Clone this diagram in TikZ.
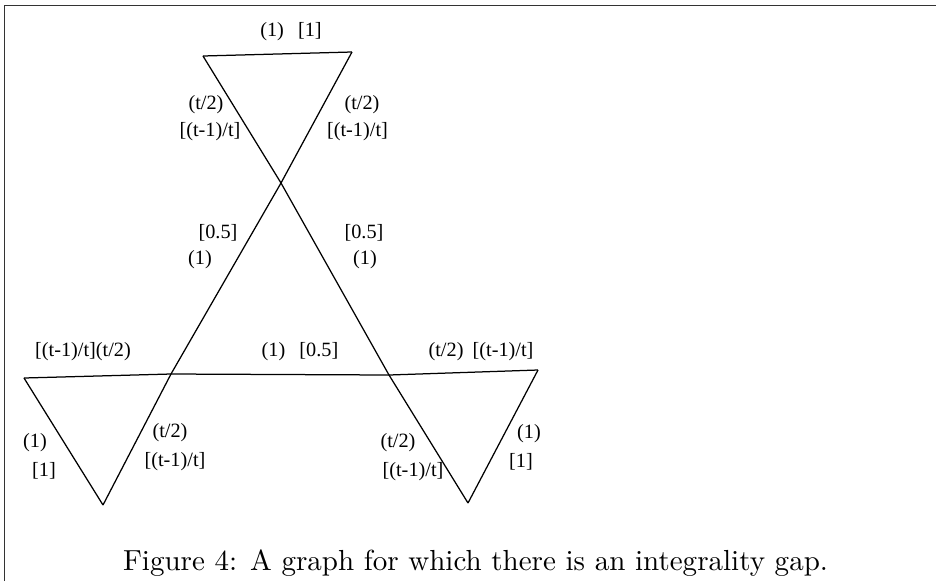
\documentclass[tikz,border=0pt]{standalone}
\usepackage{fontspec}
\newfontfamily\lbl{Liberation Serif}
\begin{document}
\begin{tikzpicture}[x=0.36pt,y=-0.36pt,
  edge/.style={line width=0.45pt,line join=miter},
  lab/.style={inner sep=0pt,font=\lbl\fontsize{7.3}{9}\selectfont},
  frame/.style={line width=0.6pt,draw=black!80}]
\useasboundingbox (0,0) rectangle (936,581);
% frame
\draw[frame] (4.5,581) -- (4.5,5.5) -- (936,5.5);
% vertices
\coordinate (A) at (203,56);
\coordinate (B) at (352,52);
\coordinate (X) at (281,183);
\coordinate (L) at (171,374);
\coordinate (R) at (389,375);
\coordinate (LL) at (24,378);
\coordinate (LB) at (103,505);
\coordinate (RR) at (538,370);
\coordinate (RB) at (468,503);
% edges
\draw[edge] (A) -- (B);
\draw[edge] (A) -- (X);
\draw[edge] (B) -- (X);
\draw[edge] (X) -- (L);
\draw[edge] (X) -- (R);
\draw[edge] (LL) -- (L);
\draw[edge] (L) -- (R);
\draw[edge] (R) -- (RR);
\draw[edge] (LL) -- (LB);
\draw[edge] (L) -- (LB);
\draw[edge] (R) -- (RB);
\draw[edge] (RR) -- (RB);
% labels
\node[lab] (t1) at (291,32) {(1)\hspace{0.7em}[1]};
\node[lab] (t2) at (206,105) {(t/2)};
\node[lab] (t3) at (210,132) {[(t-1)/t]};
\node[lab] (t4) at (362,105) {(t/2)};
\node[lab] (t5) at (357.5,132) {[(t-1)/t]};
\node[lab] (m1) at (218,233) {[0.5]};
\node[lab] (m2) at (200,260) {(1)};
\node[lab] (m3) at (364,233) {[0.5]};
\node[lab] (m4) at (365,260) {(1)};
\node[lab] (h1) at (83,352) {[(t-1)/t](t/2)};
\node[lab] (h2) at (300,352) {(1)\hspace{0.7em}[0.5]};
\node[lab] (h3) at (481,352) {(t/2)\hspace{0.45em}[(t-1)/t]};
\node[lab] (b1) at (35,443) {(1)};
\node[lab] (b2) at (44,471) {[1]};
\node[lab] (b3) at (170,433) {(t/2)};
\node[lab] (b4) at (175,462) {[(t-1)/t]};
\node[lab] (b5) at (398,443) {(t/2)};
\node[lab] (b6) at (413,472) {[(t-1)/t]};
\node[lab] (b7) at (529,434) {(1)};
\node[lab] (b8) at (521,462) {[1]};
% caption
\node[anchor=base,inner sep=0pt,font=\fontsize{10.45}{12}\selectfont] (cap) at (475.5,570) {Figure 4: A graph for which there is an integrality gap.};
\end{tikzpicture}
\end{document}
